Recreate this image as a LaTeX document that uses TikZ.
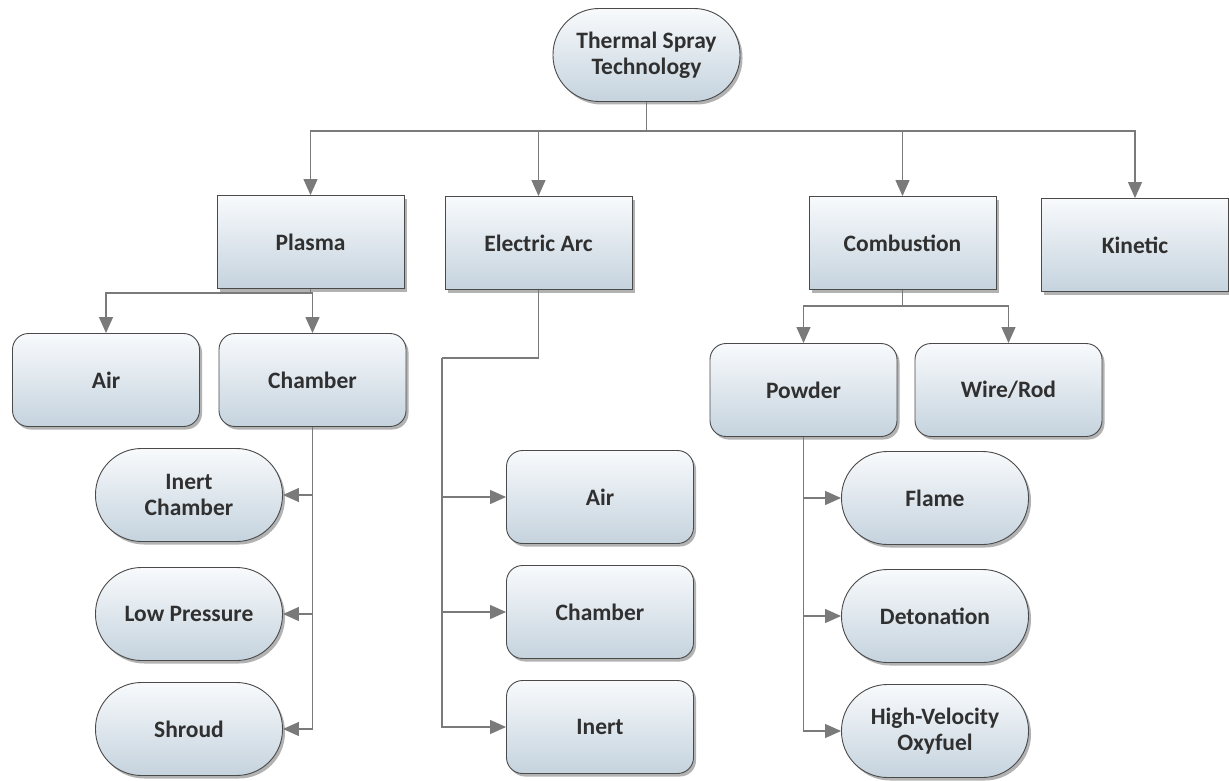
\documentclass[tikz,border=0pt]{standalone}
\usepackage{fontspec}
\setmainfont{Carlito}
\usetikzlibrary{shadows,arrows.meta}
\definecolor{edgec}{HTML}{4A4A4A}
\definecolor{lineg}{HTML}{7A7A7A}
\definecolor{topc}{HTML}{F8FAFC}
\definecolor{botc}{HTML}{C5D3DE}
\definecolor{txt}{HTML}{303030}
\begin{document}
\begin{tikzpicture}[x=1pt,y=-1pt,
  base/.style={draw=edgec, line width=0.9pt, top color=topc, bottom color=botc,
    text=txt, font=\fontsize{23.5}{26}\selectfont\bfseries, align=center,
    minimum width=187pt, minimum height=93pt, inner sep=0pt,
    drop shadow={shadow xshift=2.5pt, shadow yshift=-3pt, fill=black, opacity=0.3}},
  sqbox/.style={base},
  rbox/.style={base, rounded corners=16pt},
  pill/.style={base, rounded corners=46pt},
  link/.style={draw=lineg, line width=1.2pt},
  arr/.style={link, -{Triangle[length=16pt,width=14pt]}}]
\fill[white] (0,0) rectangle (1229,781);
\useasboundingbox (0,0) rectangle (1229,781);

\node[pill] (top) at (646.5,55) {Thermal Spray\\Technology};
\node[sqbox] (plasma) at (310.5,242) {Plasma};
\node[sqbox] (arc) at (538.5,243) {Electric Arc};
\node[sqbox] (comb) at (902.5,243) {Combustion};
\node[sqbox] (kin) at (1135,245) {Kinetic};
\node[rbox] (pair) at (106,380) {Air};
\node[rbox] (pch) at (312.5,380) {Chamber};
\node[pill] (inert) at (189,495) {Inert\\Chamber};
\node[pill] (lowp) at (189,614) {Low Pressure};
\node[pill] (shroud) at (189,729) {Shroud};
\node[rbox] (aair) at (600,497) {Air};
\node[rbox] (ach) at (600,612) {Chamber};
\node[rbox] (ainert) at (600,727) {Inert};
\node[rbox] (powder) at (803.5,390) {Powder};
\node[rbox] (wire) at (1008.5,390) {Wire/Rod};
\node[pill] (flame) at (935,498) {Flame};
\node[pill] (deto) at (935,616) {Detonation};
\node[pill] (hvof) at (935,731) {High-Velocity\\Oxyfuel};

\coordinate (j1) at (646.5,131);
\coordinate (j2) at (311,293);
\coordinate (j3) at (442,358);
\coordinate (j4) at (903,306);

\draw[link] (top.south) -- (j1);
\foreach \n in {plasma,arc,comb,kin} \draw[arr] (j1) -| (\n.north);
\draw[link] (plasma.south) |- (j2);
\draw[arr] (j2) -| (pair.north);
\draw[arr] (j2) -| (pch.north);
\foreach \n in {inert,lowp,shroud} \draw[arr] (pch.south) |- (\n.east);
\draw[link] (arc.south) |- (j3);
\foreach \n in {aair,ach,ainert} \draw[arr] (j3) |- (\n.west);
\draw[link] (comb.south) |- (j4);
\draw[arr] (j4) -| (powder.north);
\draw[arr] (j4) -| (wire.north);
\foreach \n in {flame,deto,hvof} \draw[arr] (powder.south) |- (\n.west);
\end{tikzpicture}
\end{document}
